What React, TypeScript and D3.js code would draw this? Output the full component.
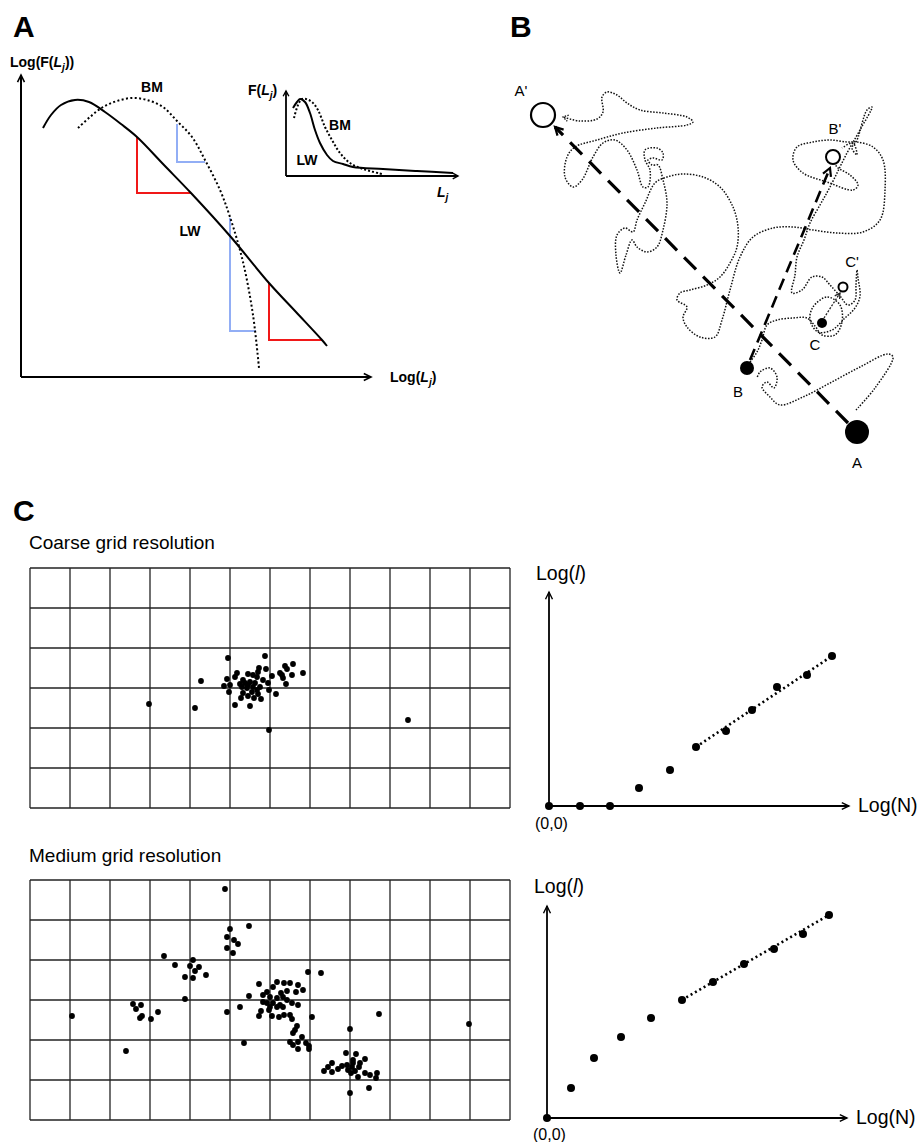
import React from 'react';
import * as d3 from 'd3';

type P = [number, number];

// ---------- Panel A data ----------
const lwCurve: P[] = [[22,249],[30,262],[40,272],[54,277],[68,275],[84,265],[100,253],[116,240],[143,212],[170,184],[209,141],[248,94],[275,65],[301,37],[306,31]];
const bmCurve: P[] = [[57,249],[69,260],[82,270],[96,276],[111,279],[126,277],[142,270],[156,256],[171,240],[184,217],[199,187],[209,160],[222,115],[232,62],[238,9]];
const redSteps = [{ x0: 116, y0: 240, y1: 184, x1: 170 }, { x0: 248, y0: 94, y1: 37, x1: 301 }];
const blueSteps = [{ x0: 156, y0: 253, y1: 215, x1: 184 }, { x0: 209, y0: 159, y1: 46, x1: 235 }];
const insetLW: P[] = [[7,68],[11,74],[14,77],[19,74],[24,63],[29,46],[34,33],[41,21],[47,15],[57,12],[67,9],[97,7],[131,5],[167,3]];
const insetBM: P[] = [[8,58],[12,71],[16,77],[20,77],[26,74],[32,66],[39,49],[46,36],[54,23],[64,13],[77,7],[96,2]];

// ---------- Panel B data (local coords, x offset 470) ----------
const walkStart: P[] = [[386,410],[405,388],[423,357],[418,354],[390,367],[360,383],[333,397],[310,405],[300,397],[292,387],[297,382],[304,388],[307,377],[300,368],[290,372],[287,378]];
const walkA: P[] = [[363,160],[367,167],[380,175],[388,185],[383,190],[357,182],[333,173],[323,160],[327,147],[343,142],[360,140],[377,142],[387,142],[403,147],[413,160],[415,190],[410,220],[393,232],[367,233],[343,230],[323,227],[303,228],[283,237],[270,257],[260,290],[252,320],[245,337],[230,337],[217,327],[213,317],[217,307],[207,300],[210,293],[220,290],[237,285],[250,277],[260,263],[267,247],[268,227],[263,207],[250,187],[233,177],[213,174],[197,177],[185,183],[175,203],[167,220],[163,232],[155,228],[147,235],[146,255],[150,273],[156,255],[162,240],[167,247],[177,252],[187,247],[193,230],[197,203],[193,180],[188,165],[182,165],[178,160],[183,158],[192,160],[193,153],[187,148],[175,150],[175,160],[180,170],[178,187],[173,187],[167,170],[157,150],[145,140],[133,143],[123,157],[112,180],[103,187],[95,177],[97,157],[105,147],[127,140],[153,133],[187,128],[217,125],[223,122],[217,117],[193,113],[170,110],[157,103],[147,95],[137,92],[132,97],[133,112],[127,119],[110,121],[93,117]];
const walkB: P[] = [[280,362],[287,352],[292,340],[297,325],[307,320],[323,318],[337,318],[345,326],[352,335],[365,335],[372,322],[370,305],[357,297],[343,307],[340,320],[348,332],[362,330],[375,318],[385,308],[390,296],[388,278],[387,270],[386,285],[385,300],[378,305],[370,296],[360,285],[352,277],[342,277],[332,290],[322,293],[325,275],[327,257],[334,240],[340,223],[350,205],[360,187],[377,153],[390,130],[402,107],[397,110],[387,140],[382,148],[387,155],[383,143],[372,148]];
const markers = [
  { name: "A", x: 387, y: 432, r: 12, filled: true, lx: 387, ly: 468 },
  { name: "A'", x: 73, y: 115, r: 12, filled: false, lx: 51, ly: 96 },
  { name: "B", x: 277, y: 368, r: 7, filled: true, lx: 268, ly: 397 },
  { name: "B'", x: 363, y: 157, r: 7, filled: false, lx: 365, ly: 134 },
  { name: "C", x: 352, y: 323, r: 5, filled: true, lx: 345, ly: 350 },
  { name: "C'", x: 373, y: 287, r: 4.5, filled: false, lx: 382, ly: 267 },
];
const moves = [
  { from: [378, 423] as P, to: [85, 127] as P, width: 3.2, dash: "17,10" },
  { from: [280, 360] as P, to: [360, 168] as P, width: 2.6, dash: "12,7" },
];
const smallMove = { from: [354, 318] as P, to: [370, 293] as P };

// ---------- Panel C data ----------
const coarsePoints: P[] = [[198,90],[235,88],[171,113],[119,136],[165,140],[239,162],[378,152],[273,105],[263,96],[255,98],[257,101],[252,107],[262,107],[256,116],[253,110],[250,105],[242,108],[236,101],[229,100],[207,105],[197,111],[194,118],[200,117],[199,124],[205,137],[211,130],[213,125],[218,128],[220,138],[224,130],[231,131],[246,126],[239,122],[238,115],[233,112],[227,109],[223,107],[218,106],[215,115],[210,116],[212,119],[217,120],[222,124],[227,122],[230,119],[225,115],[220,114],[223,119],[218,117],[205,109],[228,104],[213,112],[228,126]];
const mediumPoints: P[] = [[195,9],[200,49],[219,46],[197,57],[204,60],[208,64],[197,68],[203,73],[134,76],[145,85],[163,80],[160,86],[169,87],[165,91],[155,97],[163,98],[176,95],[155,119],[103,124],[111,125],[106,129],[110,138],[112,136],[121,139],[128,132],[42,136],[96,171],[197,132],[210,127],[214,163],[229,104],[219,116],[247,102],[254,103],[260,103],[268,105],[273,110],[266,112],[257,111],[251,113],[243,107],[237,112],[233,115],[240,117],[247,118],[253,117],[257,120],[262,123],[268,125],[250,125],[243,123],[237,123],[233,122],[240,127],[247,127],[253,127],[231,131],[239,130],[229,136],[242,136],[249,137],[254,135],[260,135],[262,139],[278,92],[291,93],[282,137],[267,146],[265,150],[263,153],[272,157],[276,163],[279,166],[279,169],[268,169],[263,165],[260,162],[268,162],[349,134],[320,149],[316,173],[326,174],[335,179],[323,180],[312,186],[308,189],[302,183],[298,187],[294,191],[302,192],[317,185],[322,187],[329,187],[325,191],[321,193],[328,197],[335,193],[340,195],[347,193],[346,198],[339,208],[320,213],[439,144],[323,183],[330,183],[318,190]];
const coarseLog: P[] = [[0,0],[31,0],[61,0],[90,18],[121,36],[147,59],[177,75],[203,96],[228,119],[258,131],[283,150]];
const mediumLog: P[] = [[0,0],[24,30],[47,60],[74,81],[104,100],[135,118],[166,136],[197,154],[227,169],[256,184],[282,203]];
const fitStart = 5;

const FONT = "'Liberation Sans', Arial, sans-serif";

function chevron(tip: P, from: P, size = 8, half = 0.5): string {
  const ang = Math.atan2(tip[1] - from[1], tip[0] - from[0]);
  const a1 = ang + Math.PI - half, a2 = ang + Math.PI + half;
  return `M${tip[0] + size * Math.cos(a1)},${tip[1] + size * Math.sin(a1)}L${tip[0]},${tip[1]}L${tip[0] + size * Math.cos(a2)},${tip[1] + size * Math.sin(a2)}`;
}

function PanelA() {
  const x = d3.scaleLinear([0, 350], [21, 371]);
  const y = d3.scaleLinear([0, 302], [377, 75]);
  const line = d3.line<P>().x(d => x(d[0])).y(d => y(d[1])).curve(d3.curveCatmullRom);
  const ix = d3.scaleLinear([0, 172], [286, 458]);
  const iy = d3.scaleLinear([0, 85], [176, 91]);
  const iline = d3.line<P>().x(d => ix(d[0])).y(d => iy(d[1])).curve(d3.curveCatmullRom);
  const step = (s: any) => `M${x(s.x0)},${y(s.y0)}V${y(s.y1)}H${x(s.x1)}`;
  return (
    <g fontFamily={FONT}>
      <text x={13} y={37} fontSize={30} fontWeight="bold">A</text>
      <text x={10} y={67} fontSize={14} fontWeight="bold">Log(F(<tspan fontStyle="italic">L</tspan><tspan fontStyle="italic" fontSize={10} dy={4}>j</tspan><tspan dy={-4}>))</tspan></text>
      <line x1={x(0)} y1={y(0)} x2={x(0)} y2={y(302)} stroke="#000" strokeWidth={2} />
      <line x1={x(0)} y1={y(0)} x2={x(350)} y2={y(0)} stroke="#000" strokeWidth={2} />
      <path d={chevron([x(0), y(302)], [x(0), y(0)], 8, 0.45)} fill="none" stroke="#000" strokeWidth={1.6} />
      <path d={chevron([x(350), y(0)], [x(0), y(0)], 8, 0.45)} fill="none" stroke="#000" strokeWidth={1.6} />
      <text x={390} y={382} fontSize={14} fontWeight="bold">Log(<tspan fontStyle="italic">L</tspan><tspan fontStyle="italic" fontSize={10} dy={4}>j</tspan><tspan dy={-4}>)</tspan></text>
      {blueSteps.map((s, i) => <path key={'b' + i} d={step(s)} fill="none" stroke="#92aef5" strokeWidth={2} />)}
      {redSteps.map((s, i) => <path key={'r' + i} d={step(s)} fill="none" stroke="#f01818" strokeWidth={2} />)}
      <path d={line(lwCurve)!} fill="none" stroke="#000" strokeWidth={2} />
      <path d={line(bmCurve)!} fill="none" stroke="#000" strokeWidth={2} strokeDasharray="2,2.4" />
      <text x={152} y={92} fontSize={14} fontWeight="bold" textAnchor="middle">BM</text>
      <text x={190} y={236} fontSize={14} fontWeight="bold" textAnchor="middle">LW</text>
      {/* inset */}
      <text x={248} y={95} fontSize={14} fontWeight="bold">F(<tspan fontStyle="italic">L</tspan><tspan fontStyle="italic" fontSize={10} dy={4}>j</tspan><tspan dy={-4}>)</tspan></text>
      <line x1={ix(0)} y1={iy(0)} x2={ix(0)} y2={iy(85)} stroke="#000" strokeWidth={1.8} />
      <line x1={ix(0)} y1={iy(0)} x2={ix(172)} y2={iy(0)} stroke="#000" strokeWidth={1.8} />
      <path d={chevron([ix(0), iy(85)], [ix(0), iy(0)], 6, 0.5)} fill="none" stroke="#000" strokeWidth={1.4} />
      <path d={chevron([ix(172), iy(0)], [ix(0), iy(0)], 6, 0.5)} fill="none" stroke="#000" strokeWidth={1.4} />
      <path d={iline(insetLW)!} fill="none" stroke="#000" strokeWidth={2} />
      <path d={iline(insetBM)!} fill="none" stroke="#000" strokeWidth={2} strokeDasharray="2,2" />
      <text x={340} y={130} fontSize={14} fontWeight="bold" textAnchor="middle">BM</text>
      <text x={307} y={165} fontSize={14} fontWeight="bold" textAnchor="middle">LW</text>
      <text x={437} y={197} fontSize={14} fontWeight="bold"><tspan fontStyle="italic">L</tspan><tspan fontStyle="italic" fontSize={10} dy={4}>j</tspan></text>
    </g>
  );
}

function PanelB() {
  const x = d3.scaleLinear([0, 450], [470, 920]);
  const y = d3.scaleLinear([0, 480], [0, 480]);
  const line = d3.line<P>().x(d => x(d[0])).y(d => y(d[1])).curve(d3.curveCatmullRom);
  const walks = [walkStart, walkA, walkB];
  const lastA = walkA[walkA.length - 1], prevA = walkA[walkA.length - 2];
  return (
    <g fontFamily={FONT}>
      <text x={510} y={37} fontSize={30} fontWeight="bold">B</text>
      {walks.map((w, i) => <path key={i} d={line(w)!} fill="none" stroke="#111" strokeWidth={1.5} strokeDasharray="1.5,1.5" />)}
      <path d={chevron([x(lastA[0]), y(lastA[1])], [x(prevA[0]), y(prevA[1])], 6, 0.55)} fill="none" stroke="#111" strokeWidth={1.3} strokeDasharray="1.4,1.3" />
      {moves.map((m, i) => (
        <g key={i}>
          <line x1={x(m.from[0])} y1={y(m.from[1])} x2={x(m.to[0])} y2={y(m.to[1])} stroke="#000" strokeWidth={m.width} strokeDasharray={m.dash} />
          <path d={chevron([x(m.to[0]), y(m.to[1])], [x(m.from[0]), y(m.from[1])], 9, 0.5)} fill="none" stroke="#000" strokeWidth={2.2} />
        </g>
      ))}
      <line x1={x(smallMove.from[0])} y1={y(smallMove.from[1])} x2={x(smallMove.to[0])} y2={y(smallMove.to[1])} stroke="#222" strokeWidth={1.3} strokeDasharray="2,1.5" />
      <path d={chevron([x(smallMove.to[0]), y(smallMove.to[1])], [x(smallMove.from[0]), y(smallMove.from[1])], 6, 0.5)} fill="none" stroke="#222" strokeWidth={1.2} />
      {markers.map(m => (
        <g key={m.name}>
          <circle cx={x(m.x)} cy={y(m.y)} r={m.r} fill={m.filled ? "#000" : "#fff"} stroke="#000" strokeWidth={m.filled ? 0 : (m.r > 8 ? 2.2 : 2)} />
          <text x={x(m.lx)} y={y(m.ly)} fontSize={15} textAnchor="middle">{m.name}</text>
        </g>
      ))}
    </g>
  );
}

function Grid({ top, points }: { top: number; points: P[] }) {
  const gx = d3.scaleLinear([0, 480], [30, 510]);
  const gy = d3.scaleLinear([0, 240], [top, top + 240]);
  const cols = d3.range(0, 481, 40);
  const rows = d3.range(0, 241, 40);
  return (
    <g>
      {cols.map(c => <line key={'c' + c} x1={gx(c)} x2={gx(c)} y1={gy(0)} y2={gy(240)} stroke="#222" strokeWidth={1.3} />)}
      {rows.map(r => <line key={'r' + r} x1={gx(0)} x2={gx(480)} y1={gy(r)} y2={gy(r)} stroke="#222" strokeWidth={1.3} />)}
      {points.map((p, i) => <circle key={i} cx={gx(p[0])} cy={gy(p[1])} r={2.9} fill="#000" />)}
    </g>
  );
}

function LogPlot({ ox, oy, h, pts, labelY, nY, zY }: { ox: number; oy: number; h: number; pts: P[]; labelY: number; nY: number; zY: number }) {
  const x = d3.scaleLinear([0, 300], [ox, ox + 300]);
  const y = d3.scaleLinear([0, h], [oy, oy - h]);
  const fit = pts.slice(fitStart);
  return (
    <g fontFamily={FONT}>
      <line x1={x(0)} y1={y(0)} x2={x(0)} y2={y(h)} stroke="#000" strokeWidth={1.8} />
      <line x1={x(0)} y1={y(0)} x2={x(300)} y2={y(0)} stroke="#000" strokeWidth={1.8} />
      <path d={chevron([x(0), y(h)], [x(0), y(0)], 8, 0.45)} fill="none" stroke="#000" strokeWidth={1.4} />
      <path d={chevron([x(300), y(0)], [x(0), y(0)], 8, 0.45)} fill="none" stroke="#000" strokeWidth={1.4} />
      <line x1={x(fit[0][0])} y1={y(fit[0][1])} x2={x(fit[fit.length - 1][0])} y2={y(fit[fit.length - 1][1])} stroke="#000" strokeWidth={2.6} strokeDasharray="2,3" />
      {pts.map((p, i) => <circle key={i} cx={x(p[0])} cy={y(p[1])} r={4} fill="#000" />)}
      <text x={ox - 13} y={labelY} fontSize={19.5}>Log(<tspan fontStyle="italic">l</tspan>)</text>
      <text x={ox + 309} y={nY} fontSize={19.5}>Log(N)</text>
      <text x={ox - 14} y={zY} fontSize={16}>(0,0)</text>
    </g>
  );
}

function PanelC() {
  return (
    <g fontFamily={FONT}>
      <text x={13} y={521} fontSize={30} fontWeight="bold">C</text>
      <text x={29} y={549} fontSize={19}>Coarse grid resolution</text>
      <Grid top={568} points={coarsePoints} />
      <LogPlot ox={549} oy={806} h={214} pts={coarseLog} labelY={580} nY={812} zY={829} />
      <text x={29} y={862} fontSize={19}>Medium grid resolution</text>
      <Grid top={880} points={mediumPoints} />
      <LogPlot ox={547} oy={1118} h={212} pts={mediumLog} labelY={893} nY={1124} zY={1140} />
    </g>
  );
}

export default function App() {
  return (
    <div style={{ position: 'absolute', left: 0, top: 0 }}>
      <svg width={921} height={1142} viewBox="0 0 921 1142" style={{ display: 'block', background: '#fff' }}>
        <rect width={921} height={1142} fill="#fff" />
        <PanelA />
        <PanelB />
        <PanelC />
      </svg>
    </div>
  );
}
